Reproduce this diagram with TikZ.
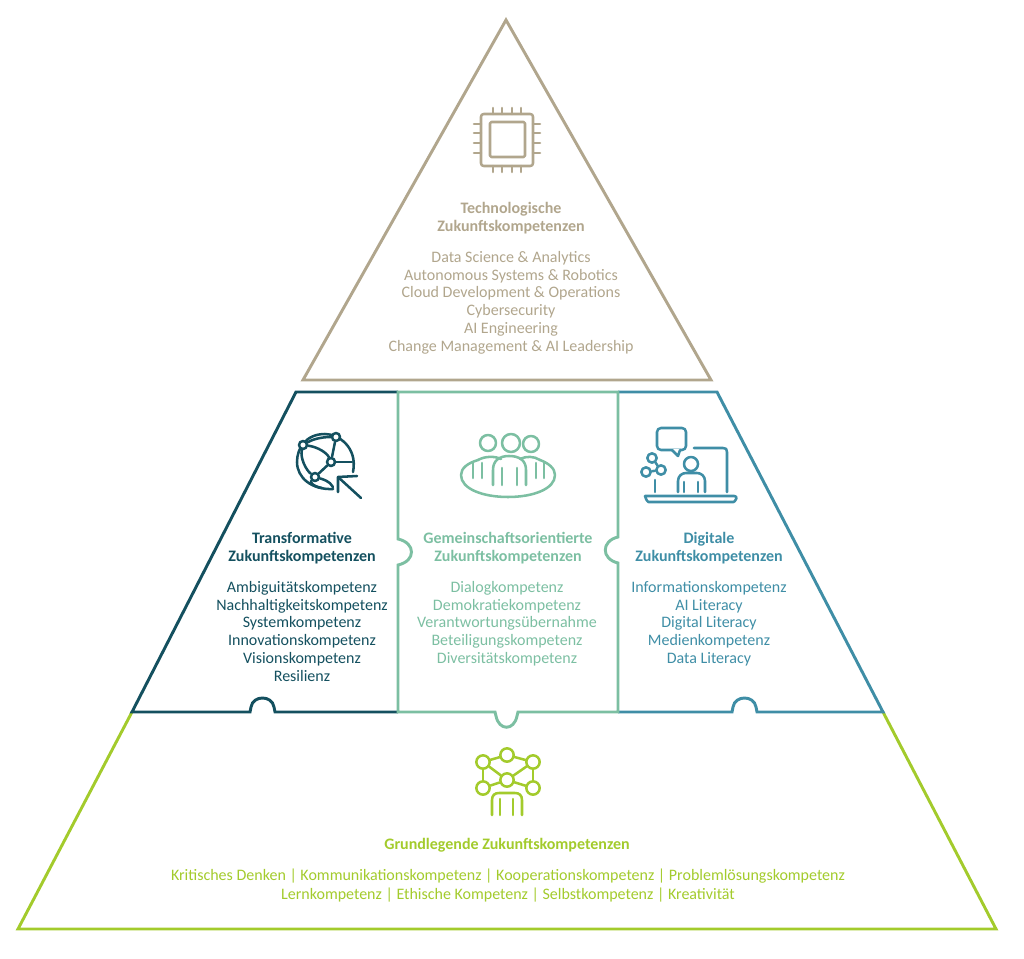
\documentclass[tikz,border=0pt]{standalone}
\usepackage{fontspec}
\setmainfont{Carlito}
\usepackage{xcolor}
\usetikzlibrary{calc}
\definecolor{tancolor}{HTML}{B1A68D}
\definecolor{darkcolor}{HTML}{14505F}
\definecolor{mintcolor}{HTML}{7CBFA2}
\definecolor{bluecolor}{HTML}{3F8EA6}
\definecolor{limecolor}{HTML}{A3CB2C}
\tikzset{
  frame/.style={line width=2.2pt,line join=miter},
  icon/.style={line width=1.9pt,line cap=round,line join=round},
  listtext/.style={align=center,font=\fontsize{12}{13.3}\selectfont,inner sep=0pt,anchor=north},
  titletext/.style={align=center,font=\fontsize{12}{13.6}\selectfont\bfseries,inner sep=0pt,anchor=north},
  hub/.style={circle,draw,line width=1.9pt,inner sep=0pt,minimum size=#1},
}
\begin{document}
\begin{tikzpicture}[x=0.75pt,y=-0.75pt]
\useasboundingbox (0,0) rectangle (1024,959);

%% base and top
\draw[frame,limecolor] (132,712) -- (18,929) -- (996,929) -- (883,712);
\draw[frame,tancolor] (506,20) -- (711,380) -- (303,380) -- cycle;

%% middle row
\draw[frame,darkcolor] (398,392) -- (296,392) -- (132,712) -- (250,712) -- (251,707)
   .. controls (253,695) and (272,695) .. (274,707) -- (275,712) -- (398,712);
\draw[frame,bluecolor] (618,392) -- (717,392) -- (883,712) -- (757,712) -- (756,707)
   .. controls (754,695) and (735,695) .. (733,707) -- (732,712) -- (618,712);
\draw[frame,mintcolor] (398,392) -- (618,392) -- (618,537)
   .. controls (601,541) and (601,559) .. (618,563) -- (618,712) -- (518,712) -- (517,716)
   .. controls (514,731) and (499,731) .. (496,716) -- (495,712) -- (398,712) -- (398,565)
   .. controls (416,561) and (416,543) .. (398,539) -- cycle;

%% chip
\begin{scope}[tancolor,icon]
  \draw[rounded corners=2pt] (481,114) rectangle (533,166);
  \draw[rounded corners=1pt] (490,122) rectangle (525,157);
  \foreach \x in {493,502,512,521}
    \draw (\x,108) -- (\x,114) (\x,166) -- (\x,172);
  \foreach \y in {124,133,143,153}
    \draw (474,\y) -- (481,\y) (533,\y) -- (540,\y);
\end{scope}

%% globe with cursor
\begin{scope}[darkcolor,icon]
  \draw (353,472) .. controls (358,447) and (338,434) .. (325,434)
     .. controls (306,434) and (297,448) .. (297,462)
     .. controls (297,478) and (312,490) .. (333,489);
  \node[hub=6pt,fill=white] (gA) at (303,445) {};
  \node[hub=6pt,fill=white] (gB) at (336,437) {};
  \node[hub=6pt,fill=white] (gC) at (331,462) {};
  \node[hub=6pt,fill=white] (gD) at (315,477) {};
  \draw (gA) .. controls (315,438) and (325,437) .. (gB);
  \draw (gB) -- (gC) -- (gD);
  \draw (gA) .. controls (318,447) and (327,453) .. (gC);
  \draw (gA) .. controls (300,458) and (306,470) .. (gD);
  \draw (gC) -- (352,462);
  \draw (gD) .. controls (322,479) and (330,481) .. (333,487);
  \draw (gD) .. controls (310,482) and (312,486) .. (322,488);
  \draw (361,498) -- (338,477);
  \draw (338,492) -- (338,477) -- (357,476);
\end{scope}

%% group at table
\begin{scope}[mintcolor,icon]
  \draw (488,443) circle (8);
  \draw (511,443) circle (9);
  \draw (531,444) circle (8);
  \draw (478,460) .. controls (468,463) and (461,468) .. (461,475)
     .. controls (461,489) and (483,497) .. (508,497)
     .. controls (533,497) and (555,489) .. (555,475)
     .. controls (555,468) and (548,463) .. (540,460);
  \draw (473,478) -- (473,463) (482,478) -- (482,463);
  \draw (478,460) .. controls (485,456) and (495,456) .. (501,459);
  \draw (536,478) -- (536,463) (544,478) -- (544,463);
  \draw (520,459) .. controls (526,456) and (534,456) .. (540,460);
  \draw (493,485) -- (493,470) .. controls (493,460) and (500,456) .. (509,456)
     .. controls (519,456) and (526,460) .. (526,470) -- (526,485);
  \draw (502,485) -- (502,468) (517,485) -- (517,468);
\end{scope}

%% presenter
\begin{scope}[bluecolor,icon]
  \draw[rounded corners=3pt] (657,428) rectangle (686,450);
  \fill[white] (672,449) rectangle (680,452);
  \draw (672,450) -- (678,456) -- (680,450);
  \draw (694,448) -- (723,448) .. controls (726,448) and (727,449) .. (727,452) -- (727,492);
  \draw (655,480) -- (655,492);
  \draw (691,464) circle (7);
  \draw (678,492) -- (678,481) .. controls (678,476) and (682,473) .. (686,473) -- (697,473)
     .. controls (701,473) and (705,476) .. (705,481) -- (705,492);
  \draw (684,482) -- (684,492) (698,482) -- (698,492);
  \draw[rounded corners=2pt] (645,496) -- (737,496) .. controls (736,500) and (734,502) .. (731,502)
     -- (651,502) .. controls (648,502) and (646,500) .. (645,496);
  \node[hub=7pt] (mA) at (652,458) {};
  \node[hub=7pt] (mB) at (646,472) {};
  \node[hub=7pt] (mC) at (661,470) {};
  \draw (mA) -- (mC) (mB) -- (mC);
\end{scope}

%% network over person
\begin{scope}[limecolor,icon]
  \node[hub=10pt] (nA) at (483,762) {};
  \node[hub=10pt] (nB) at (507,755) {};
  \node[hub=10pt] (nC) at (533,762) {};
  \node[hub=10pt] (nD) at (507,780) {};
  \node[hub=10pt] (nE) at (483,788) {};
  \node[hub=10pt] (nF) at (533,788) {};
  \foreach \a/\b in {nA/nB, nB/nC, nA/nD, nC/nD, nA/nE, nC/nF, nD/nE, nD/nF}
    \draw (\a) -- (\b);
  \draw (492,815) -- (492,800) .. controls (492,795) and (495,793) .. (499,793) -- (515,793)
     .. controls (519,793) and (522,795) .. (522,800) -- (522,815);
  \draw (500,799) -- (500,815) (513,799) -- (513,815);
\end{scope}

%% labels
\node[titletext,tancolor] (techtitle) at (511,202) {Technologische\\Zukunftskompetenzen};
\node[listtext,tancolor] (techlist) at (511,251) {Data Science \& Analytics\\Autonomous Systems \& Robotics\\Cloud Development \& Operations\\Cybersecurity\\AI Engineering\\Change Management \& AI Leadership};
\node[titletext,darkcolor] (transtitle) at (302,532) {Transformative\\Zukunftskompetenzen};
\node[listtext,darkcolor] (translist) at (302,581) {Ambiguitätskompetenz\\Nachhaltigkeitskompetenz\\Systemkompetenz\\Innovationskompetenz\\Visionskompetenz\\Resilienz};
\node[titletext,mintcolor] (gemtitle) at (508,532) {Gemeinschaftsorientierte\\Zukunftskompetenzen};
\node[listtext,mintcolor] (gemlist) at (507,581) {Dialogkompetenz\\Demokratiekompetenz\\Verantwortungsübernahme\\Beteiligungskompetenz\\Diversitätskompetenz};
\node[titletext,bluecolor] (digtitle) at (709,532) {Digitale\\Zukunftskompetenzen};
\node[listtext,bluecolor] (diglist) at (709,581) {Informationskompetenz\\AI Literacy\\Digital Literacy\\Medienkompetenz\\Data Literacy};
\node[titletext,limecolor] (grundtitle) at (507,838) {Grundlegende Zukunftskompetenzen};
\node[listtext,limecolor,font=\fontsize{12}{14.2}\selectfont] (grundlist) at (508,869) {Kritisches Denken | Kommunikationskompetenz | Kooperationskompetenz | Problemlösungskompetenz\\Lernkompetenz | Ethische Kompetenz | Selbstkompetenz | Kreativität};
\end{tikzpicture}
\end{document}
